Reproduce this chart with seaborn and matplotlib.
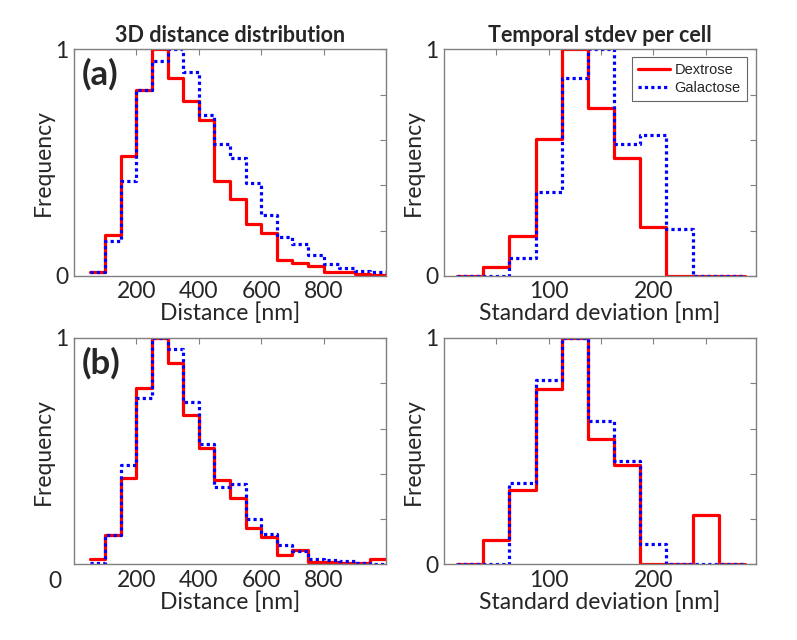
import pandas as pd
import seaborn as sns
import matplotlib.pyplot as plt

# 3D distance histograms: 50 nm bins from 50 to 1000 nm
dist_edges = list(range(50, 1001, 50))
dist_dex_a = [0.016, 0.18, 0.53, 0.82, 1.0, 0.875, 0.77, 0.69, 0.42, 0.34,
              0.23, 0.19, 0.068, 0.055, 0.045, 0.016, 0.016, 0.009, 0.003]
dist_gal_a = [0.016, 0.154, 0.42, 0.82, 0.95, 1.0, 0.90, 0.71, 0.58, 0.52,
              0.41, 0.27, 0.17, 0.14, 0.093, 0.052, 0.036, 0.022, 0.015]
dist_dex_b = [0.025, 0.128, 0.38, 0.78, 1.0, 0.89, 0.66, 0.516, 0.373, 0.292,
              0.162, 0.122, 0.044, 0.064, 0.012, 0.012, 0.005, 0.005, 0.022]
dist_gal_b = [0.007, 0.128, 0.44, 0.735, 1.0, 0.95, 0.715, 0.53, 0.34, 0.357,
              0.2, 0.133, 0.088, 0.059, 0.025, 0.02, 0.015, 0.005, 0.002]

# temporal stdev histograms: 25 nm bins centred on 25..275 nm
sd_edges = [12.5 + 25 * i for i in range(12)]
sd_dex_a = [0, 0.038, 0.174, 0.606, 1.0, 0.74, 0.52, 0.215, 0, 0, 0]
sd_gal_a = [0, 0, 0.078, 0.37, 0.875, 1.0, 0.58, 0.62, 0.206, 0, 0]
sd_dex_b = [0, 0.11, 0.33, 0.776, 1.0, 0.554, 0.44, 0, 0, 0.22, 0]
sd_gal_b = [0, 0, 0.36, 0.816, 1.0, 0.632, 0.456, 0.091, 0, 0, 0]

sns.set_style('white')
plt.rcParams['font.family'] = ['Lato', 'DejaVu Sans']
FS = 16.5


def stairs(ax, edges, vals, color, ls, label):
    df = pd.DataFrame({'x': edges, 'y': list(vals) + [vals[-1]]})
    sns.lineplot(data=df, x='x', y='y', ax=ax, color=color, linestyle=ls,
                 linewidth=2.3, drawstyle='steps-post', label=label,
                 estimator=None, sort=False)


def style_axes(ax, xlim, xticks, xlabels, xlabel):
    ax.set_xlim(*xlim)
    ax.set_ylim(0, 1)
    ax.set_xticks(xticks)
    ax.set_xticklabels(xlabels)
    ax.set_yticks([0, 0.2, 0.4, 0.6, 0.8, 1])
    ax.set_yticklabels(['0', '', '', '', '', '1'])
    ax.tick_params(direction='in', length=4, width=0.8, color='#808080',
                   top=True, right=True, labelsize=FS, pad=4)
    for s in ax.spines.values():
        s.set_color('#808080')
        s.set_linewidth(1.0)
    ax.set_xlabel(xlabel, fontsize=FS, labelpad=0)
    ax.set_ylabel('Frequency', fontsize=FS, labelpad=1)


fig = plt.figure(figsize=(7.97, 6.4), dpi=100)
w, h = 0.3915, 0.354
ax_tl = fig.add_axes([0.0928, 0.569, w, h])
ax_tr = fig.add_axes([0.557, 0.569, w, h])
ax_bl = fig.add_axes([0.0928, 0.118, w, h])
ax_br = fig.add_axes([0.557, 0.118, w, h])

dist_ticks = [0, 200, 400, 600, 800, 1000]
dist_labels = ['', '200', '400', '600', '800', '']
sd_ticks = [50, 100, 150, 200, 250]
sd_labels = ['', '100', '', '200', '']

for ax, dex, gal in [(ax_tl, dist_dex_a, dist_gal_a), (ax_bl, dist_dex_b, dist_gal_b)]:
    stairs(ax, dist_edges, dex, 'red', '-', 'Dextrose')
    stairs(ax, dist_edges, gal, 'blue', (0, (1, 1)), 'Galactose')
    style_axes(ax, (0, 1000), dist_ticks, dist_labels, 'Distance [nm]')
    ax.get_legend().remove()

for ax, dex, gal in [(ax_tr, sd_dex_a, sd_gal_a), (ax_br, sd_dex_b, sd_gal_b)]:
    stairs(ax, sd_edges, dex, 'red', '-', 'Dextrose')
    stairs(ax, sd_edges, gal, 'blue', (0, (1, 1)), 'Galactose')
    style_axes(ax, (0, 298), sd_ticks, sd_labels, 'Standard deviation [nm]')

ax_br.get_legend().remove()
leg = ax_tr.legend(loc='upper right', bbox_to_anchor=(0.97, 0.965), fancybox=False,
                   prop={'family': 'Liberation Sans', 'size': 10.5},
                   handlelength=2.2, handletextpad=0.3, borderpad=0.4,
                   labelspacing=0.25, borderaxespad=0)
leg.get_frame().set_edgecolor('#404040')
leg.get_frame().set_linewidth(0.8)

# bottom-left: the "0" sits in the tick-label row in the original
ax_bl.set_yticklabels(['', '', '', '', '', '1'])
ax_bl.text(-0.04, -0.03, '0', transform=ax_bl.transAxes, fontsize=FS,
           ha='right', va='top')

ax_tl.set_title('3D distance distribution', fontsize=15.5, fontweight='bold', pad=5)
ax_tr.set_title('Temporal stdev per cell', fontsize=15.5, fontweight='bold', pad=5)
ax_tl.text(0.025, 0.96, '(a)', transform=ax_tl.transAxes, fontsize=25,
           fontweight='bold', va='top')
ax_bl.text(0.025, 0.96, '(b)', transform=ax_bl.transAxes, fontsize=25,
           fontweight='bold', va='top')

plt.savefig('out.png', dpi=100)
